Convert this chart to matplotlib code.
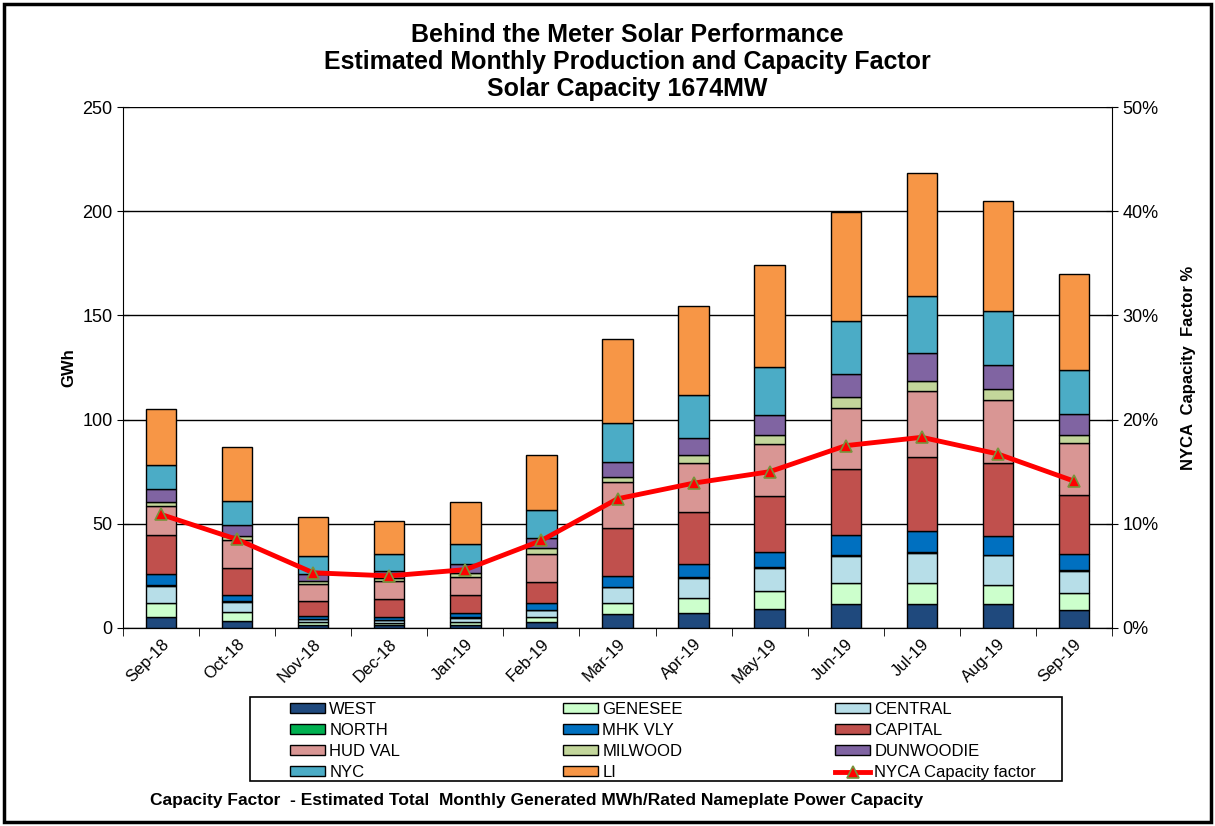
import matplotlib
matplotlib.use('Agg')
import matplotlib.pyplot as plt
import numpy as np
from matplotlib.patches import Rectangle
from matplotlib.ticker import FuncFormatter, MultipleLocator

plt.rcParams['font.family'] = ['Liberation Sans', 'DejaVu Sans']

months = ['Sep-18', 'Oct-18', 'Nov-18', 'Dec-18', 'Jan-19', 'Feb-19', 'Mar-19',
          'Apr-19', 'May-19', 'Jun-19', 'Jul-19', 'Aug-19', 'Sep-19']

# GWh per zone, stacked bottom -> top
west      = [5.3, 3.5, 1.5, 1.2, 1.5, 3.0, 6.7, 7.3, 9.1, 11.4, 11.4, 11.4, 8.6]
genesee   = [6.5, 4.0, 1.2, 1.0, 1.5, 2.4, 5.1, 7.2, 8.7, 10.2, 10.0, 9.4, 8.3]
central   = [8.5, 5.1, 1.6, 1.5, 2.0, 3.2, 7.7, 9.6, 11.0, 13.1, 14.8, 14.1, 10.6]
north     = [0.3, 0.3, 0.1, 0.1, 0.1, 0.1, 0.3, 0.3, 0.3, 0.3, 0.3, 0.3, 0.3]
mhk_vly   = [5.1, 2.9, 1.3, 1.6, 2.3, 3.1, 5.0, 6.2, 7.4, 9.8, 10.1, 8.9, 7.7]
capital   = [18.9, 12.8, 7.2, 8.5, 8.4, 10.3, 23.2, 25.2, 27.0, 31.5, 35.3, 34.9, 28.4]
hud_val   = [13.9, 13.6, 8.0, 8.6, 8.8, 13.4, 21.9, 23.2, 24.6, 29.3, 31.7, 30.6, 25.1]
milwood   = [2.1, 2.1, 1.6, 1.5, 1.6, 3.0, 2.7, 3.9, 4.5, 5.1, 5.1, 5.1, 3.8]
dunwoodie = [5.9, 5.0, 3.2, 3.5, 4.5, 4.8, 7.1, 8.4, 9.6, 11.0, 13.1, 11.7, 9.9]
nyc       = [11.5, 11.6, 8.7, 7.9, 9.6, 13.2, 18.5, 20.7, 23.2, 25.8, 27.7, 25.8, 21.3]
li        = [27.2, 26.0, 18.9, 15.8, 20.0, 26.5, 40.3, 42.7, 48.8, 52.3, 58.9, 52.9, 45.7]

# NYCA capacity factor, %
cap_factor = [10.9, 8.5, 5.3, 5.0, 5.6, 8.4, 12.4, 13.9, 15.0, 17.5, 18.3, 16.7, 14.1]

zones = ['WEST', 'GENESEE', 'CENTRAL', 'NORTH', 'MHK VLY', 'CAPITAL',
         'HUD VAL', 'MILWOOD', 'DUNWOODIE', 'NYC', 'LI']
series = [west, genesee, central, north, mhk_vly, capital,
          hud_val, milwood, dunwoodie, nyc, li]
colors = ['#1F497D', '#CCFFCC', '#B7DEE8', '#00B050', '#0070C0', '#C0504D',
          '#D99694', '#C3D69B', '#8064A2', '#4BACC6', '#F79646']

fig = plt.figure(figsize=(12.15, 8.26), dpi=100)
ax = fig.add_axes([123/1215, 1 - 628/826, (1112-123)/1215, (628-107)/826])

x = np.arange(len(months))
bottom = np.zeros(len(months))
handles = []
for name, vals, c in zip(zones, series, colors):
    b = ax.bar(x, vals, 0.4, bottom=bottom, color=c, edgecolor='black',
               linewidth=1.0, label=name, zorder=3)
    bottom += np.array(vals)
    handles.append(b)

ax.set_xlim(-0.5, len(months) - 0.5)
ax.set_ylim(0, 250)
ax.yaxis.set_major_locator(MultipleLocator(50))
ax.grid(axis='y', color='black', linewidth=1.0, zorder=0)
ax.set_xticks(x)
ax.set_xticklabels(months, rotation=45, ha='right', rotation_mode='anchor', fontsize=12)
ax.tick_params(axis='x', length=0, pad=6)
ax.set_xticks(np.arange(-0.5, len(months)), minor=True)
ax.tick_params(axis='x', which='minor', length=6, direction='out')
ax.tick_params(axis='y', labelsize=13, direction='inout', length=8)
ax.set_ylabel('GWh', fontsize=12, fontweight='bold')
ax.spines['top'].set_visible(False)
ax.spines['right'].set_visible(False)

ax2 = ax.twinx()
ln, = ax2.plot(x, cap_factor, color='#FF0000', linewidth=3.5, marker='^',
               markersize=8, markerfacecolor='#FF0000', markeredgecolor='#77933C',
               markeredgewidth=1.2, label='NYCA Capacity factor', zorder=5)
ax2.set_ylim(0, 50)
ax2.yaxis.set_major_locator(MultipleLocator(10))
ax2.yaxis.set_major_formatter(FuncFormatter(lambda v, p: '%d%%' % v))
ax2.tick_params(axis='y', labelsize=13, direction='inout', length=8)
ax2.set_ylabel('NYCA  Capacity  Factor %', fontsize=12, fontweight='bold', labelpad=16)
ax2.spines['top'].set_visible(False)
ax2.spines['left'].set_visible(False)

fig.text(627/1215, 1 - 62/826,
         'Behind the Meter Solar Performance\nEstimated Monthly Production and Capacity Factor\nSolar Capacity 1674MW',
         ha='center', va='center', fontsize=18, fontweight='bold', linespacing=1.15)

# legend: reference reads row-wise, so one legend per column
h = handles + [ln]
labels = zones + ['NYCA Capacity factor']
col_x = [290, 563, 835]
for c in range(3):
    idx = [c, c + 3, c + 6, c + 9]
    leg = fig.legend([h[i] for i in idx], [labels[i] for i in idx],
                     loc='upper left', bbox_to_anchor=(col_x[c]/1215, 1 - 702/826),
                     fontsize=12, frameon=False, borderpad=0, borderaxespad=0,
                     handlelength=2.1, handleheight=0.5, handletextpad=0.25,
                     labelspacing=0.36)
fig.patches.append(Rectangle((250/1215, 1 - 781/826), 812/1215, 84/826,
                             transform=fig.transFigure, fill=False,
                             edgecolor='black', linewidth=1.2))

fig.text(150/1215, 1 - 800/826,
         'Capacity Factor  - Estimated Total  Monthly Generated MWh/Rated Nameplate Power Capacity',
         ha='left', va='center', fontsize=12.5, fontweight='bold')

fig.patches.append(Rectangle((4/1215, 4/826), 1 - 8/1215, 1 - 8/826, transform=fig.transFigure,
                             fill=False, edgecolor='black', linewidth=2.5))

fig.savefig('out.png', dpi=100)
